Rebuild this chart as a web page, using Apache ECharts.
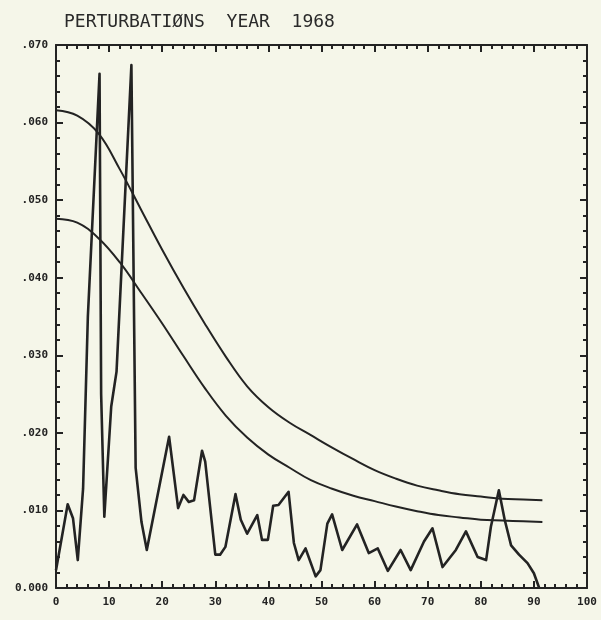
<!DOCTYPE html>
<html><head><meta charset="utf-8">
<script src="https://cdn.jsdelivr.net/npm/echarts/dist/echarts.min.js"></script>
<style>html,body{margin:0;padding:0;background:#f5f6e9;}#c{width:601px;height:620px;}</style>
</head><body><div id="c"></div>
<script>
const titleText = 'PERTURBATIØNS  YEAR  1968';
const xTickLabels = ['0','10','20','30','40','50','60','70','80','90','100'];
const yTickLabels = ['0.000','.010','.020','.030','.040','.050','.060','.070'];

const perturbX = [0, 2.2, 3.2, 4.1, 5.1, 6.0, 8.2, 8.5, 9.1, 10.4, 11.4, 14.2, 15.0, 16.1, 17.1, 21.3, 23.0, 24.0, 25.0, 26.0, 27.5, 28.1, 30.0, 30.9, 31.9, 33.8, 34.8, 36.0, 37.9, 38.8, 39.9, 40.9, 41.9, 43.8, 44.8, 45.7, 47.0, 48.9, 49.8, 51.1, 52.0, 53.9, 56.7, 58.9, 60.6, 62.5, 64.9, 66.8, 69.3, 70.9, 72.8, 75.3, 77.2, 79.4, 81.0, 81.9, 83.4, 84.5, 85.7, 87.2, 88.8, 90.0, 91.0];
const perturbY = [0.0023, 0.0108, 0.0090, 0.0036, 0.0128, 0.035, 0.0663, 0.025, 0.0092, 0.0234, 0.0279, 0.0674, 0.0155, 0.0085, 0.0049, 0.0195, 0.0103, 0.0120, 0.0111, 0.0113, 0.0177, 0.0163, 0.0043, 0.0043, 0.0053, 0.0121, 0.0088, 0.0070, 0.0094, 0.0062, 0.0062, 0.0106, 0.0107, 0.0124, 0.0058, 0.0036, 0.0051, 0.0015, 0.0023, 0.0083, 0.0095, 0.0049, 0.0082, 0.0045, 0.0051, 0.0022, 0.0049, 0.0023, 0.0060, 0.0077, 0.0027, 0.0049, 0.0073, 0.0040, 0.0036, 0.0079, 0.0126, 0.0088, 0.0055, 0.0043, 0.0032, 0.0019, 0.0];

const curveX = [0, 4, 8, 12, 16, 20, 24, 28, 32, 36, 40, 44, 48, 52, 56, 60, 64, 68, 72, 76, 80, 84, 88, 91.6];
const upperY = [0.0616, 0.0609, 0.0586, 0.0540, 0.0488, 0.0436, 0.0387, 0.0341, 0.0298, 0.0260, 0.0233, 0.0213, 0.0197, 0.0181, 0.0166, 0.0152, 0.0141, 0.0132, 0.0126, 0.0121, 0.0118, 0.0115, 0.0114, 0.0113];
const lowerY = [0.0476, 0.0471, 0.0451, 0.0420, 0.0381, 0.0341, 0.0299, 0.0258, 0.0222, 0.0194, 0.0172, 0.0155, 0.0139, 0.0128, 0.0119, 0.0112, 0.0105, 0.0099, 0.0094, 0.0091, 0.0088, 0.0087, 0.0086, 0.0085];

const ink = '#232323';
const zip = (xs, ys) => xs.map((x, i) => [x, ys[i]]);

const labelFont = {fontFamily: 'DejaVu Sans Mono', fontWeight: 'bold', fontSize: 11, color: ink};
function axisCommon(extra) {
  return Object.assign({
    axisLine: {show: true, onZero: false, lineStyle: {color: ink, width: 2}},
    axisTick: {show: true, inside: true, length: 7, lineStyle: {color: ink, width: 2}},
    minorTick: {show: true, splitNumber: 5, length: 4, lineStyle: {color: ink, width: 2}},
    splitLine: {show: false},
    minorSplitLine: {show: false}
  }, extra);
}

const chart = echarts.init(document.getElementById('c'), null, {renderer: 'canvas'});
chart.setOption({
  backgroundColor: '#f5f6e9',
  animation: false,
  title: {
    text: titleText, left: 59, top: 8,
    textStyle: {fontFamily: 'DejaVu Sans Mono', fontWeight: 'normal', fontSize: 18, color: '#2a2a2a'}
  },
  grid: {left: 56, right: 14, top: 45, bottom: 32, containLabel: false, outerBoundsMode: 'none'},
  xAxis: [
    axisCommon({type: 'value', position: 'bottom', min: 0, max: 100, interval: 10,
      axisLabel: Object.assign({show: true, margin: 9, showMinLabel: true, showMaxLabel: true,
        formatter: v => xTickLabels[Math.round(v / 10)]}, labelFont)}),
    axisCommon({type: 'value', position: 'top', min: 0, max: 100, interval: 10,
      axisLabel: {show: false}})
  ],
  yAxis: [
    axisCommon({type: 'value', position: 'left', min: 0, max: 0.07, interval: 0.01,
      axisLabel: Object.assign({show: true, margin: 8, showMinLabel: true, showMaxLabel: true,
        formatter: v => yTickLabels[Math.round(v / 0.01)]}, labelFont)}),
    axisCommon({type: 'value', position: 'right', min: 0, max: 0.07, interval: 0.01,
      axisLabel: {show: false}})
  ],
  series: [
    {type: 'line', data: zip(curveX, upperY), smooth: 0.4, symbol: 'none',
      lineStyle: {color: ink, width: 2}},
    {type: 'line', data: zip(curveX, lowerY), smooth: 0.4, symbol: 'none',
      lineStyle: {color: ink, width: 2}},
    {type: 'line', data: zip(perturbX, perturbY), smooth: false, symbol: 'none',
      lineStyle: {color: ink, width: 2.6, join: 'round'}}
  ]
});
</script>
</body></html>
